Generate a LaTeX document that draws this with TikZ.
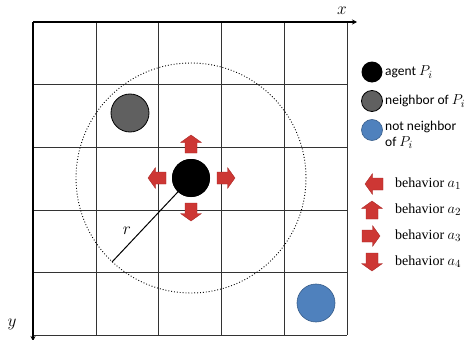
\documentclass[tikz,border=0pt]{standalone}
\usepackage{fontspec}
\setmainfont{Carlito}
\newfontfamily\serifbeh{Liberation Serif}
\usetikzlibrary{arrows.meta}
\definecolor{arrred}{RGB}{205,55,52}
\definecolor{arrdark}{RGB}{165,35,33}
\definecolor{nbgray}{RGB}{96,96,96}
\definecolor{nbblue}{RGB}{79,129,189}
\definecolor{nbblueedge}{RGB}{56,93,138}
\newcommand{\mP}{{\fontsize{15}{15}\selectfont$P_i$}}
\newcommand{\ma}[1]{{\fontsize{15}{15}\selectfont$a_{#1}$}}
\tikzset{
  gridline/.style={draw=black!80, line width=0.6pt},
  axisline/.style={draw=black, line width=1.2pt, -{Stealth[length=5pt,width=5pt]}},
  bigdot/.style={circle, minimum size=38pt, inner sep=0pt},
  legdot/.style={circle, minimum size=21pt, inner sep=0pt},
  legtext/.style={anchor=west, inner sep=0pt, font=\fontsize{13.5}{16}\selectfont, align=left},
  behtext/.style={anchor=west, inner sep=0pt, font=\serifbeh\fontsize{14}{16}\selectfont},
  axlabel/.style={font=\fontsize{16}{16}\selectfont},
  blockarrow/.style={fill=arrred, draw=arrdark, line width=0.3pt, line join=round},
  pics/barrow/.style={code={
    \path[blockarrow] (-9,0) -- (-1.5,-10.5) -- (-1.5,-6) -- (9,-6) -- (9,6) -- (-1.5,6) -- (-1.5,10.5) -- cycle;
  }}
}
\begin{document}
\begin{tikzpicture}[x=1pt,y=-1pt]
\useasboundingbox (0,0) rectangle (475,340);
% grid
\foreach \i in {1,...,5} {
  \draw[gridline] (33+62.8*\i,22) -- (33+62.8*\i,335);
  \draw[gridline] (33,22+62.6*\i) -- (347,22+62.6*\i);
}
\coordinate (o) at (33,22);
\coordinate (xend) at (357,22);
\coordinate (yend) at (33,341);
\draw[axisline] (o) -- (xend);
\draw[axisline] (o) -- (yend);
\node[axlabel] (xl) at (342,11) {$x$};
\node[axlabel] (yl) at (12,324) {$y$};
% range circle
\node[circle, draw, dotted, line width=0.9pt, minimum size=230pt, inner sep=0pt] (range) at (191,178) {};
% radius
\coordinate (rend) at (112,262);
\node[bigdot, fill=black] (agent) at (191,178) {};
\draw[line width=1pt] (agent.center) -- (rend);
\node[bigdot, fill=black] at (191,178) {};
\node[axlabel] (rl) at (127,231) {$r$};
% neighbors
\node[bigdot, fill=nbgray, draw=black, line width=0.8pt] (nb) at (130,113) {};
\node[bigdot, fill=nbblue, draw=nbblueedge, line width=0.6pt] (nn) at (316,303) {};
% behavior arrows around agent
\pic at (157,178) {barrow};
\pic[rotate=-90] at (191,144) {barrow};
\pic[rotate=180] at (226,178) {barrow};
\pic[rotate=90] at (191,212) {barrow};
% legend
\node[legdot, fill=black] (l1) at (372,72) {};
\node[legtext] (t1) at (385,72) {agent \mP};
\node[legdot, fill=nbgray, draw=black, line width=0.8pt] (l2) at (372,101) {};
\node[legtext] (t2) at (385,101) {neighbor of \mP};
\node[legdot, fill=nbblue, draw=nbblueedge, line width=0.6pt] (l3) at (372,130) {};
\node[legtext, anchor=north west] (t3) at (385,121) {not neighbor\\of \mP};
\pic at (374,184) {barrow};
\node[behtext] (b1) at (395,184) {behavior \ma{1}};
\pic[rotate=-90] at (372,210) {barrow};
\node[behtext] (b2) at (395,210) {behavior \ma{2}};
\pic[rotate=180] at (371,236) {barrow};
\node[behtext] (b3) at (395,236) {behavior \ma{3}};
\pic[rotate=90] at (372,262) {barrow};
\node[behtext] (b4) at (395,262) {behavior \ma{4}};
\end{tikzpicture}
\end{document}
